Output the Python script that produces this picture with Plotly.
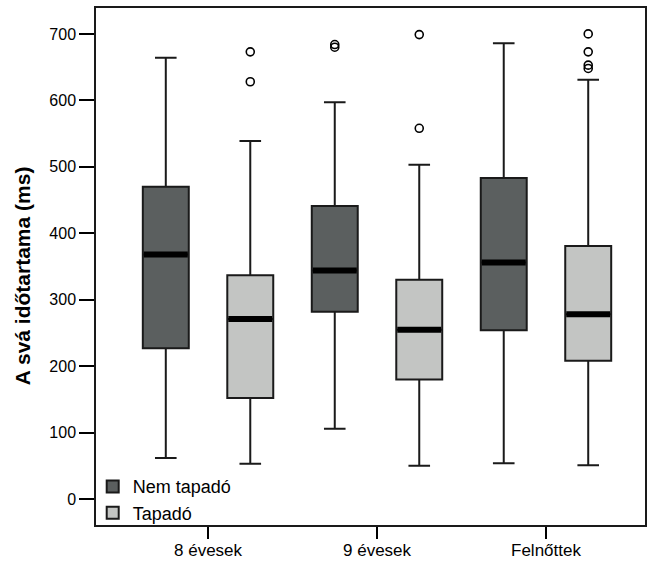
import plotly.graph_objects as go

groups = ["8 évesek", "9 évesek", "Felnőttek"]
series = ["Nem tapadó", "Tapadó"]
colors = ["#5b5f5f", "#c3c5c3"]

# precomputed box statistics per series (one value per group)
lower = {"Nem tapadó": [62, 106, 54], "Tapadó": [53, 50, 51]}
q1 = {"Nem tapadó": [227, 282, 254], "Tapadó": [152, 180, 208]}
median = {"Nem tapadó": [368, 344, 356], "Tapadó": [271, 255, 278]}
q3 = {"Nem tapadó": [470, 441, 483], "Tapadó": [337, 330, 381]}
upper = {"Nem tapadó": [664, 597, 686], "Tapadó": [539, 503, 631]}
outliers = {
    "Nem tapadó": [[], [680, 684], []],
    "Tapadó": [[628, 673], [558, 699], [648, 653, 673, 700]],
}

box_width = 0.272
offsets = {"Nem tapadó": -0.25, "Tapadó": 0.25}
font_family = "Arial, 'Liberation Sans', sans-serif"

fig = go.Figure()
for s, col in zip(series, colors):
    pos = [i + offsets[s] for i in range(len(groups))]
    fig.add_trace(go.Box(
        name=s, x=pos, q1=q1[s], median=median[s], q3=q3[s],
        lowerfence=lower[s], upperfence=upper[s],
        width=box_width, fillcolor=col,
        line=dict(color="#1a1a1a", width=2),
        whiskerwidth=0.47, boxpoints=False, showlegend=True,
        hoverinfo="skip",
    ))
    # thick median bars
    mx, my = [], []
    for p, m in zip(pos, median[s]):
        mx += [p - box_width / 2 + 0.006, p + box_width / 2 - 0.006, None]
        my += [m, m, None]
    fig.add_trace(go.Scatter(x=mx, y=my, mode="lines",
                             line=dict(color="black", width=6),
                             showlegend=False, hoverinfo="skip"))
    # outliers
    ox, oy = [], []
    for p, vals in zip(pos, outliers[s]):
        for v in vals:
            ox.append(p)
            oy.append(v)
    fig.add_trace(go.Scatter(x=ox, y=oy, mode="markers",
                             marker=dict(symbol="circle-open", size=8,
                                         color="black", line=dict(width=1.6)),
                             showlegend=False, hoverinfo="skip"))

fig.update_layout(
    width=648, height=562,
    margin=dict(l=96, r=3, t=8, b=37, autoexpand=False),
    paper_bgcolor="white", plot_bgcolor="white",
    font=dict(family=font_family, color="black", size=16),
    legend=dict(x=-0.006, y=-0.012, xanchor="left", yanchor="bottom",
                bgcolor="rgba(0,0,0,0)", borderwidth=0,
                font=dict(size=18), tracegroupgap=0),
    showlegend=True,
    annotations=[dict(
        text="<b>A svá időtartama (ms)</b>", textangle=-90,
        xref="paper", yref="paper", x=-0.134, y=0.482,
        xanchor="center", yanchor="middle", showarrow=False,
        font=dict(size=21),
    )],
)
fig.update_xaxes(
    range=[-0.663, 2.586], tickvals=list(range(len(groups))), ticktext=groups,
    ticks="outside", ticklen=12, tickwidth=1.5, tickcolor="black",
    showline=True, linecolor="#1a1a1a", linewidth=1.5, mirror=True,
    showgrid=False, zeroline=False, tickfont=dict(size=17),
    ticklabelstandoff=-3, automargin=False,
)
fig.update_yaxes(
    range=[-39, 739], tickvals=list(range(0, 800, 100)),
    ticks="outside", ticklen=15, tickwidth=1.5, tickcolor="black",
    showline=True, linecolor="#1a1a1a", linewidth=1.5, mirror=True,
    showgrid=False, zeroline=False, tickfont=dict(size=16),
    automargin=False,
)
fig.write_html("out.html")
